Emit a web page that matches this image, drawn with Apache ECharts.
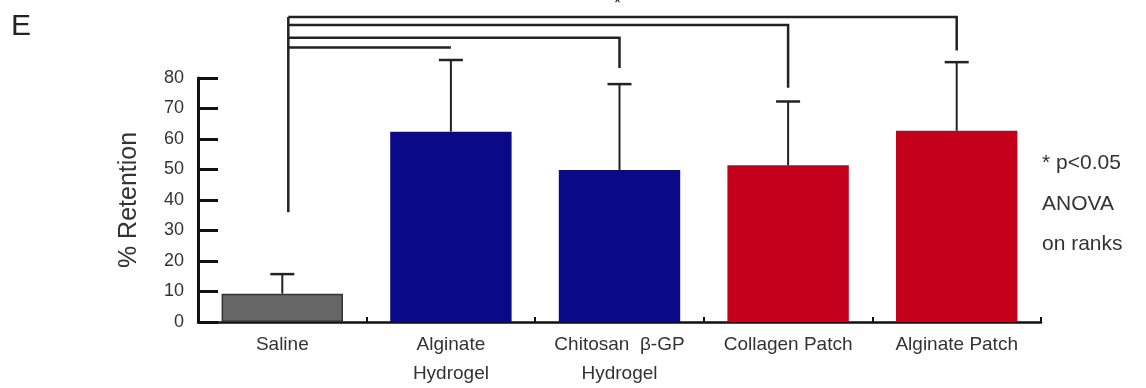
<!DOCTYPE html>
<html>
<head>
<meta charset="utf-8">
<script src="https://cdn.jsdelivr.net/npm/echarts@6/dist/echarts.min.js"></script>
<style>
  html, body { margin: 0; padding: 0; background: #fff; }
  #chart { width: 1146px; height: 388px; }
</style>
</head>
<body>
<div id="chart"></div>
<script>
// groups on the x axis
const categories = ['Saline', 'Alginate\nHydrogel', 'Chitosan  β-GP\nHydrogel', 'Collagen Patch', 'Alginate Patch'];
// mean % retention
const means = [9.3, 62.4, 49.8, 51.4, 62.7];
// top of the upper error bar
const errTops = [15.7, 85.9, 78.0, 72.3, 85.2];
const barColors = ['#666666', '#0a0a88', '#0a0a88', '#c5001b', '#c5001b'];
const yTicks = [0, 10, 20, 30, 40, 50, 60, 70, 80];

// significance brackets from Saline: [target group, bracket level, end of drop]
const brackets = [
  [1, 90.0, 90.0],
  [2, 93.2, 83.3],
  [3, 97.4, 76.8],
  [4, 100.0, 89.0]
];
const salineStem = [36, 100]; // bottom and top of the Saline stem

const font = 'Liberation Sans, Arial, sans-serif';
const myChart = echarts.init(document.getElementById('chart'));

const option = {
  animation: false,
  grid: { left: 198, right: 105, top: 78, bottom: 61 },
  xAxis: {
    type: 'category',
    data: categories,
    axisLine: { lineStyle: { color: '#111', width: 2.5 } },
    axisTick: { show: true, inside: true, length: 5, lineStyle: { color: '#111', width: 2 } },
    axisLabel: {
      color: '#333',
      fontFamily: font,
      fontSize: 19,
      lineHeight: 29,
      margin: 8,
      interval: 0
    }
  },
  yAxis: {
    type: 'value',
    min: 0,
    max: 80,
    interval: 10,
    name: '% Retention',
    nameLocation: 'middle',
    nameGap: 56,
    nameRotate: 90,
    nameTextStyle: { color: '#333', fontSize: 25, fontFamily: font },
    splitLine: { show: false },
    axisLine: { show: true, lineStyle: { color: '#111', width: 3 } },
    axisTick: { show: true, inside: true, length: 20, lineStyle: { color: '#111', width: 3 } },
    axisLabel: {
      color: '#333',
      fontSize: 18,
      margin: 14,
      fontFamily: font,
      formatter: v => yTicks.includes(v) ? String(v) : ''
    }
  },
  graphic: [
    { type: 'text', left: 11, top: 12, style: { text: 'E', fontSize: 30, fill: '#222', fontFamily: font } },
    { type: 'text', left: 614, top: -5, style: { text: '*', fontSize: 18, fill: '#222', fontFamily: font } },
    { type: 'text', left: 1042, top: 153, style: { text: '* p<0.05', fontSize: 21, fill: '#333', fontFamily: font } },
    { type: 'text', left: 1042, top: 194, style: { text: 'ANOVA', fontSize: 21, fill: '#333', fontFamily: font } },
    { type: 'text', left: 1042, top: 234, style: { text: 'on ranks', fontSize: 21, fill: '#333', fontFamily: font } }
  ],
  series: [
    {
      type: 'bar',
      barWidth: '72%',
      data: means.map((v, i) => ({
        value: v,
        itemStyle: {
          color: barColors[i],
          borderColor: i === 0 ? '#333' : barColors[i],
          borderWidth: i === 0 ? 1.5 : 0
        }
      })),
      z: 2
    },
    {
      // upper error bars
      type: 'custom',
      data: means.map((v, i) => [i, v, errTops[i]]),
      renderItem: function (params, api) {
        const base = api.coord([api.value(0), api.value(1)]);
        const top = api.coord([api.value(0), api.value(2)]);
        const cap = 12;
        return {
          type: 'group',
          children: [
            { type: 'line', shape: { x1: base[0], y1: base[1], x2: top[0], y2: top[1] }, style: { stroke: '#222', lineWidth: 2 } },
            { type: 'line', shape: { x1: top[0] - cap, y1: top[1], x2: top[0] + cap, y2: top[1] }, style: { stroke: '#222', lineWidth: 2.5 } }
          ]
        };
      },
      z: 3
    },
    {
      // significance brackets
      type: 'custom',
      clip: false,
      data: brackets,
      renderItem: function (params, api) {
        const target = api.value(0);
        const level = api.value(1);
        const dropEnd = api.value(2);
        const a = api.coord([0, level]);
        const b = api.coord([target, level]);
        const c = api.coord([target, dropEnd]);
        const children = [
          { type: 'polyline', shape: { points: [[a[0] + 6, a[1]], b, c] }, style: { stroke: '#222', lineWidth: 2.5, fill: null } }
        ];
        if (params.dataIndex === brackets.length - 1) {
          const s0 = api.coord([0, salineStem[0]]);
          const s1 = api.coord([0, salineStem[1]]);
          children.push({ type: 'line', shape: { x1: s0[0] + 6, y1: s0[1], x2: s1[0] + 6, y2: s1[1] }, style: { stroke: '#222', lineWidth: 2.5 } });
        }
        return { type: 'group', children: children };
      },
      z: 4
    }
  ]
};

myChart.setOption(option);
</script>
</body>
</html>
